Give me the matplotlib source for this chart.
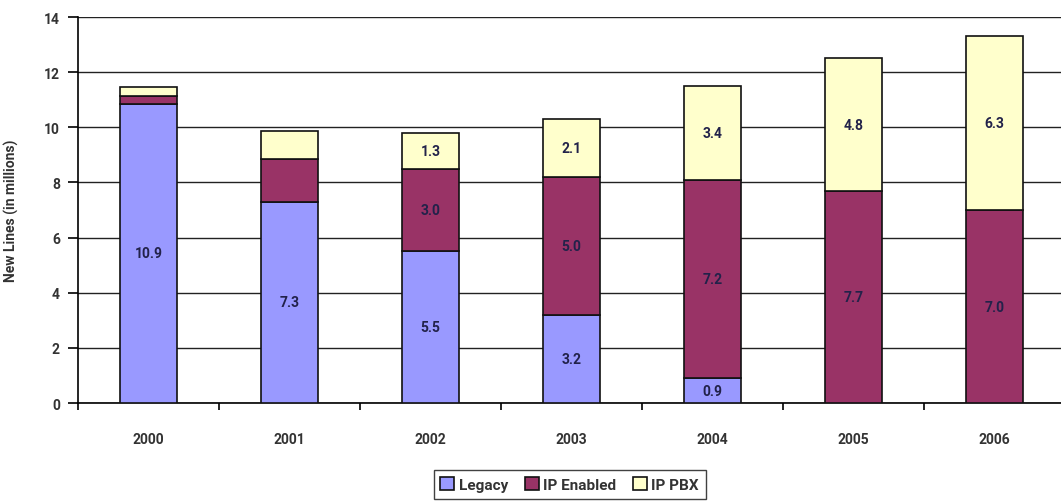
import matplotlib
matplotlib.use("Agg")
import matplotlib.pyplot as plt
import numpy as np

years = ["2000", "2001", "2002", "2003", "2004", "2005", "2006"]
legacy = [10.85, 7.3, 5.5, 3.2, 0.9, 0.0, 0.0]
ip_enabled = [0.3, 1.55, 3.0, 5.0, 7.2, 7.7, 7.0]
ip_pbx = [0.3, 1.0, 1.3, 2.1, 3.4, 4.8, 6.3]
legacy_labels = ["10.9", "7.3", "5.5", "3.2", "0.9", "", ""]
enabled_labels = ["", "", "3.0", "5.0", "7.2", "7.7", "7.0"]
pbx_labels = ["", "", "1.3", "2.1", "3.4", "4.8", "6.3"]

plt.rcParams['font.family'] = ['Roboto', 'DejaVu Sans']
plt.rcParams['font.weight'] = 'bold'
plt.rcParams['axes.labelweight'] = 'bold'
fig = plt.figure(figsize=(10.61, 5.02), dpi=100)
ax = fig.add_axes([0.0735, 0.1952, 0.9303, 0.7688])

x = np.arange(len(years))
w = 0.4
lab_color = "#22224a"
txt_color = "#333333"
b1 = ax.bar(x, legacy, w, color="#9999FF", edgecolor="#111111", linewidth=1.2, label="Legacy", zorder=3)
b2 = ax.bar(x, ip_enabled, w, bottom=legacy, color="#993366", edgecolor="#111111", linewidth=1.2, label="IP Enabled", zorder=3)
bottom3 = [a + b for a, b in zip(legacy, ip_enabled)]
b3 = ax.bar(x, ip_pbx, w, bottom=bottom3, color="#FFFFCC", edgecolor="#111111", linewidth=1.2, label="IP PBX", zorder=3)

for bars, labels, bottoms, vals in [(b1, legacy_labels, [0]*7, legacy),
                                    (b2, enabled_labels, legacy, ip_enabled),
                                    (b3, pbx_labels, bottom3, ip_pbx)]:
    for i, (lab, bt, v) in enumerate(zip(labels, bottoms, vals)):
        if lab:
            ax.text(x[i], bt + v / 2, lab, ha="center", va="center", fontsize=10,
                    color=lab_color, zorder=4)

ax.set_xlim(-0.5, len(years) - 0.5)
ax.set_ylim(0, 14)
ax.set_yticks(np.arange(0, 15, 2))
ax.yaxis.grid(True, color="#222222", linewidth=1.0, zorder=0)
ax.set_axisbelow(True)
for s in ["top", "right"]:
    ax.spines[s].set_visible(False)
ax.spines["left"].set_linewidth(1.2)
ax.spines["bottom"].set_linewidth(1.2)
ax.tick_params(axis="y", direction="out", length=7, width=1.2, labelsize=10, pad=6,
               labelcolor=txt_color)

ax.set_xticks(np.arange(-0.5, len(years), 1.0))
ax.set_xticklabels([])
ax.tick_params(axis="x", which="major", direction="out", length=5, width=1.2)
ax.set_xticks(x, minor=True)
ax.set_xticklabels(years, minor=True, fontsize=10, color=txt_color)
ax.tick_params(axis="x", which="minor", length=0, pad=21)

ax.set_ylabel("New Lines (in millions)", fontsize=10, labelpad=18, color=txt_color)

leg = fig.legend(handles=[b1, b2, b3], loc="upper center", bbox_to_anchor=(0.537, 0.076),
                 ncol=3, fontsize=11, frameon=True, fancybox=False, edgecolor="#111111",
                 handlelength=0.9, handleheight=0.9, handletextpad=0.3, columnspacing=1.1,
                 borderpad=0.45)
leg.get_frame().set_linewidth(1.0)
for t in leg.get_texts():
    t.set_color(txt_color)

fig.savefig("out.png", dpi=100)
